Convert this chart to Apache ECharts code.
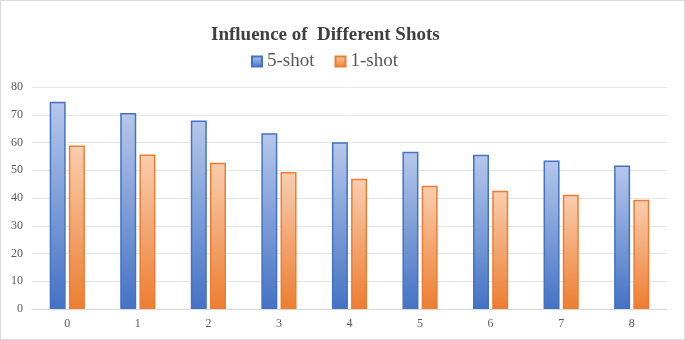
<!DOCTYPE html>
<html>
<head>
<meta charset="utf-8">
<script src="https://cdn.jsdelivr.net/npm/echarts@6/dist/echarts.min.js"></script>
<style>
  html, body { margin: 0; padding: 0; background: #fff; }
  #chart { width: 685px; height: 340px; box-sizing: border-box; border: 1px solid #d9d9d9; }
</style>
</head>
<body>
<div id="chart"></div>
<script>
// data
const categories = ['0', '1', '2', '3', '4', '5', '6', '7', '8']
const fiveShot = [74.7, 70.6, 67.9, 63.3, 60.1, 56.7, 55.6, 53.5, 51.7]
const oneShot = [58.9, 55.7, 52.7, 49.4, 46.9, 44.4, 42.6, 41.2, 39.4]
const yTicks = { min: 0, max: 80, interval: 10 }

const serif = '"Liberation Serif", "DejaVu Serif", serif'

function grad(top, bottom) {
    return new echarts.graphic.LinearGradient(0, 0, 0, 1, [
        { offset: 0, color: top },
        { offset: 1, color: bottom }
    ])
}

const chart = echarts.init(document.getElementById('chart'))

const option = {
    animation: false,
    title: {
        text: 'Influence of  Different Shots',
        left: 205,
        top: 20,
        textStyle: { fontFamily: serif, fontSize: 19, fontWeight: 'bold', color: '#404040' }
    },
    legend: {
        left: 245,
        top: 46,
        itemWidth: 10,
        itemHeight: 10,
        itemGap: 20,
        icon: 'rect',
        textStyle: { fontFamily: serif, fontSize: 19, color: '#595959' },
        data: ['5-shot', '1-shot']
    },
    grid: { left: 31, right: 17, top: 86, bottom: 30 },
    xAxis: {
        type: 'category',
        data: categories,
        axisLine: { lineStyle: { color: '#d9d9d9' } },
        axisTick: { show: false },
        axisLabel: { fontFamily: serif, fontSize: 12, color: '#595959', margin: 9 }
    },
    yAxis: {
        type: 'value',
        min: yTicks.min,
        max: yTicks.max,
        interval: yTicks.interval,
        axisLine: { show: false },
        axisTick: { show: false },
        axisLabel: { fontFamily: serif, fontSize: 12, color: '#595959', margin: 9 },
        splitLine: { lineStyle: { color: '#e6e6e6' } }
    },
    series: [
        {
            name: '5-shot',
            type: 'bar',
            data: fiveShot,
            barWidth: 16,
            barGap: '20%',
            itemStyle: {
                color: grad('#b6c8ea', '#4472c4'),
                borderColor: '#4472c4',
                borderWidth: 1.5
            }
        },
        {
            name: '1-shot',
            type: 'bar',
            data: oneShot,
            barWidth: 16,
            barGap: '20%',
            itemStyle: {
                color: grad('#f9ceb0', '#ed7d31'),
                borderColor: '#ed7d31',
                borderWidth: 1.5
            }
        }
    ]
}
chart.setOption(option)
</script>
</body>
</html>
